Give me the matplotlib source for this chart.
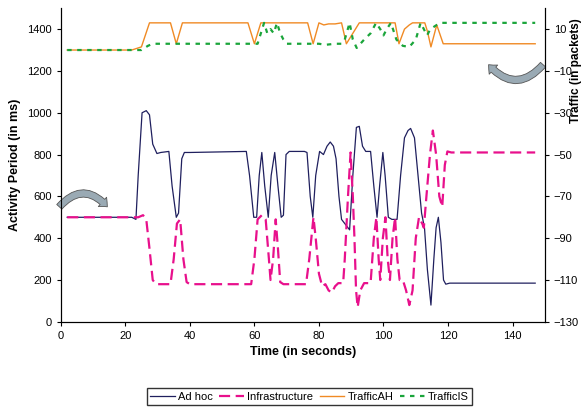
import matplotlib
matplotlib.use("Agg")
import matplotlib.pyplot as plt
from matplotlib.lines import Line2D

plt.rcParams['font.family'] = ['Liberation Sans', 'DejaVu Sans']

adhoc_t = [2, 22, 23.3, 24, 25.2, 26.5, 27.5, 28.5, 29.8, 31, 33.5, 34.5, 35.8, 36.5, 37.5, 38.3, 40,
           57.5, 58.5, 59.8, 60.7, 61.5, 62.3, 63.2, 64.3, 65.2, 66.3, 67.3, 68.3, 69, 69.8, 70.8,
           75.5, 76.3, 77.3, 78.1, 79, 80.2, 81.4, 82.5, 83.5, 84.5, 85.3, 86.2, 87, 88.5, 89.5,
           90.5, 91.6, 92.5, 93.5, 94.5, 96, 97, 98, 98.8, 99.8, 100.5, 101.5, 102.6, 104.2, 105.3,
           106.5, 107.6, 108.4, 109.6, 110.7, 111.8, 112.7, 113.6, 114.7, 115.6, 116.3, 117, 117.8,
           118.6, 119.3, 120.5, 147]
adhoc_v = [500, 500, 490, 700, 1000, 1010, 990, 850, 805, 810, 815, 650, 500, 520, 780, 810, 810,
           815, 700, 500, 500, 700, 810, 650, 500, 700, 810, 650, 500, 510, 800, 815,
           815, 810, 600, 500, 700, 815, 800, 840, 860, 840, 780, 600, 490, 460, 440,
           700, 930, 935, 840, 815, 815, 650, 500, 650, 810, 700, 500, 490, 490, 700,
           880, 915, 925, 880, 700, 520, 450, 250, 80, 300, 450, 500, 380,
           200, 180, 185, 185]

infra_t = [2, 24, 25.5, 26.5, 27.5, 28.5, 29.5, 34, 35, 36, 37, 38, 39, 40, 59, 60, 61, 62.3, 63.5,
           64.5, 65, 65.8, 66.6, 67.3, 68, 69, 76, 77, 78.3, 79, 80, 81, 82, 83, 84, 85, 86, 87.5,
           88, 89, 89.8, 90.5, 91, 91.5, 92, 92.8, 94, 96, 97, 97.8, 98.5, 99, 99.8, 100.6, 101.3,
           102, 102.8, 103.6, 104.3, 105, 106, 107, 108, 109, 110, 111, 112, 112.5, 113.3, 114.4,
           115.3, 116.3, 117.3, 118.2, 119, 119.8, 121, 147]
infra_v = [500, 500, 510, 490, 350, 200, 180, 180, 300, 470, 490, 300, 190, 180, 180, 300, 490, 510, 490,
           300, 200, 300, 490, 350, 190, 180, 180, 300, 500, 400, 230, 170, 180, 150, 140, 170, 185, 185,
           300, 600, 810, 600, 400, 150, 70, 150, 185, 185, 400, 500, 300, 200, 400, 500, 300,
           200, 400, 500, 300, 200, 200, 150, 80, 150, 400, 500, 470, 450, 600, 800,
           915, 800, 600, 550, 750, 815, 810, 810]

ah_t = [2, 22, 25, 27.5, 34, 35.8, 37.7, 58, 60, 62, 76.5, 78.2, 80, 81.5, 83, 85, 87, 88.5, 92.5,
        103.6, 104.8, 106.5, 108, 109, 112.8, 113.6, 114.7, 116.5, 118.5, 147]
ah_v = [0, 0, 1.5, 13, 13, 3, 13, 13, 3, 13, 13, 3, 13, 12, 12.5, 12.5, 13, 3, 13,
        13, 3, 10, 12, 13, 13, 9, 1.5, 12, 3, 3]

is_t = [2, 25, 27, 28.5, 61, 62, 63, 64, 65, 66, 67, 68, 69, 70, 80, 82, 85, 87, 88, 89.5, 90.5,
        91.7, 94, 96, 97.7, 99, 100, 101, 102.3, 104, 106, 108, 110, 111.5, 113.5, 114.5, 116.5, 118, 147]
is_v = [0, 0, 2, 3, 3, 8, 13, 8, 10, 8, 13, 8, 5, 3, 3, 2.5, 3, 3, 5, 13, 5,
        1, 5, 8, 13, 10, 7, 10, 13, 5, 2, 1.5, 5, 13, 7, 10, 12, 13, 13]

fig = plt.figure(figsize=(5.84, 4.11), dpi=100)
ax = fig.add_axes([0.104, 0.217, 0.829, 0.763])
ax2 = ax.twinx()

ax.plot(adhoc_t, adhoc_v, color="#1f1f5e", lw=0.9, zorder=3)
ax.plot(infra_t, infra_v, color="#e8108c", lw=1.6, dashes=(5, 2.5), zorder=4)
ax2.plot(ah_t, ah_v, color="#f08a24", lw=1.0)
ax2.plot(is_t, is_v, color="#1aa53a", lw=1.6, dashes=(2, 2.5))

ax.set_xlim(0, 150)
ax.set_ylim(0, 1500)
ax2.set_ylim(-130, 20)
ax.set_xticks(range(0, 141, 20))
ax.set_yticks(range(0, 1401, 200))
ax2.set_yticks(range(-130, 11, 20))
for a in (ax, ax2):
    a.tick_params(labelsize=8, length=3, direction="out")
    a.spines["top"].set_visible(False)
ax.set_xlabel("Time (in seconds)", fontsize=9, fontweight="bold")
ax.set_ylabel("Activity Period (in ms)", fontsize=9, fontweight="bold")
ax2.set_ylabel("Traffic (in packets)", fontsize=8.5, fontweight="bold")
ax2.yaxis.set_label_coords(1.052, 0.8)

# curved gray arrows
ax.annotate("", xy=(15, 540), xytext=(-1, 540), annotation_clip=False,
            arrowprops=dict(arrowstyle="simple,head_width=0.9,tail_width=0.5",
                            connectionstyle="arc3,rad=-0.6", fc="#9aaab4", ec="#555555", lw=0.6))
ax.annotate("", xy=(132, 1240), xytext=(150, 1240), annotation_clip=False,
            arrowprops=dict(arrowstyle="simple,head_width=0.9,tail_width=0.5",
                            connectionstyle="arc3,rad=-0.6", fc="#9aaab4", ec="#555555", lw=0.6))

handles = [Line2D([], [], color="#1f1f5e", lw=0.9),
           Line2D([], [], color="#e8108c", lw=1.6, dashes=(5, 2.5)),
           Line2D([], [], color="#f08a24", lw=1.0),
           Line2D([], [], color="#1aa53a", lw=1.6, dashes=(2, 2.5))]
fig.legend(handles, ["Ad hoc", "Infrastructure", "TrafficAH", "TrafficIS"], loc="center",
           bbox_to_anchor=(0.53, 0.035), ncol=4, fontsize=8, frameon=True, fancybox=False,
           edgecolor="black", handlelength=2.2, columnspacing=0.6, handletextpad=0.3,
           borderpad=0.3)

fig.savefig("out.png", dpi=100)
